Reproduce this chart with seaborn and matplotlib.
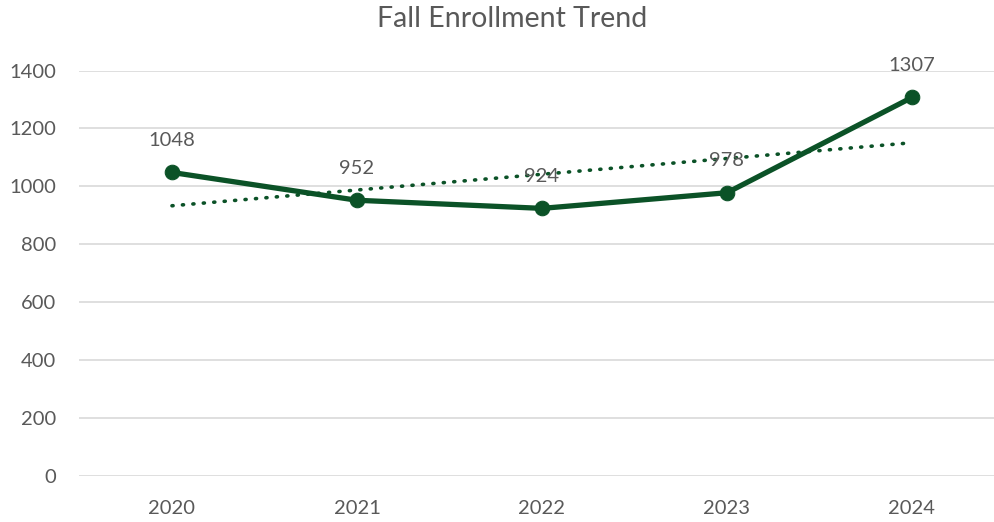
import numpy as np
import pandas as pd
import matplotlib
matplotlib.use("Agg")
import matplotlib.pyplot as plt
import seaborn as sns

years = ["2020", "2021", "2022", "2023", "2024"]
enrollment = [1048, 952, 924, 978, 1307]
yticks = [0, 200, 400, 600, 800, 1000, 1200, 1400]

sns.set_theme(style="white")
plt.rcParams['font.family'] = ['Lato', 'DejaVu Sans']

GREEN = "#0B5227"
GRAY = "#595959"

df = pd.DataFrame({"year": years, "pos": np.arange(len(years)), "enrollment": enrollment})

fig = plt.figure(figsize=(9.95, 5.22), dpi=100)
ax = fig.add_axes([79.5 / 995, (522 - 476) / 522, 916 / 995, 405.5 / 522])

# trend line (linear fit)
coef = np.polyfit(df["pos"], df["enrollment"], 1)
df["trend"] = np.polyval(coef, df["pos"])
sns.lineplot(data=df, x="pos", y="trend", ax=ax, color=GREEN, linewidth=2.6,
             linestyle=(0, (0.3, 2.6)), dash_capstyle="round", zorder=3)

sns.lineplot(data=df, x="pos", y="enrollment", ax=ax, color=GREEN, linewidth=3.8,
             marker="o", markersize=10.5, markeredgecolor=GREEN, zorder=4)

for x, y in zip(df["pos"], df["enrollment"]):
    ax.annotate(f"{y}", (x, y), xytext=(0, 23), textcoords="offset points",
                ha="center", va="center", fontsize=14.5, color=GRAY, zorder=5)

ax.set_xlim(-0.5, -0.5 + 916 / 185)
ax.set_ylim(0, 1400)
ax.set_yticks(yticks)
ax.set_yticklabels([str(t) for t in yticks])
ax.set_xticks(df["pos"])
ax.set_xticklabels(years)
ax.tick_params(axis="both", length=0, labelsize=14.5, labelcolor=GRAY)
ax.tick_params(axis="y", pad=17)
ax.tick_params(axis="x", pad=17)
ax.grid(axis="y", color="#D9D9D9", linewidth=1.2)
ax.set_axisbelow(True)
for s in ax.spines.values():
    s.set_visible(False)
ax.set_xlabel("")
ax.set_ylabel("")

fig.text(512 / 995, 1 - 19 / 522, "Fall Enrollment Trend", ha="center", va="center",
         fontsize=20.5, color=GRAY)

fig.savefig("out.png", dpi=100)
